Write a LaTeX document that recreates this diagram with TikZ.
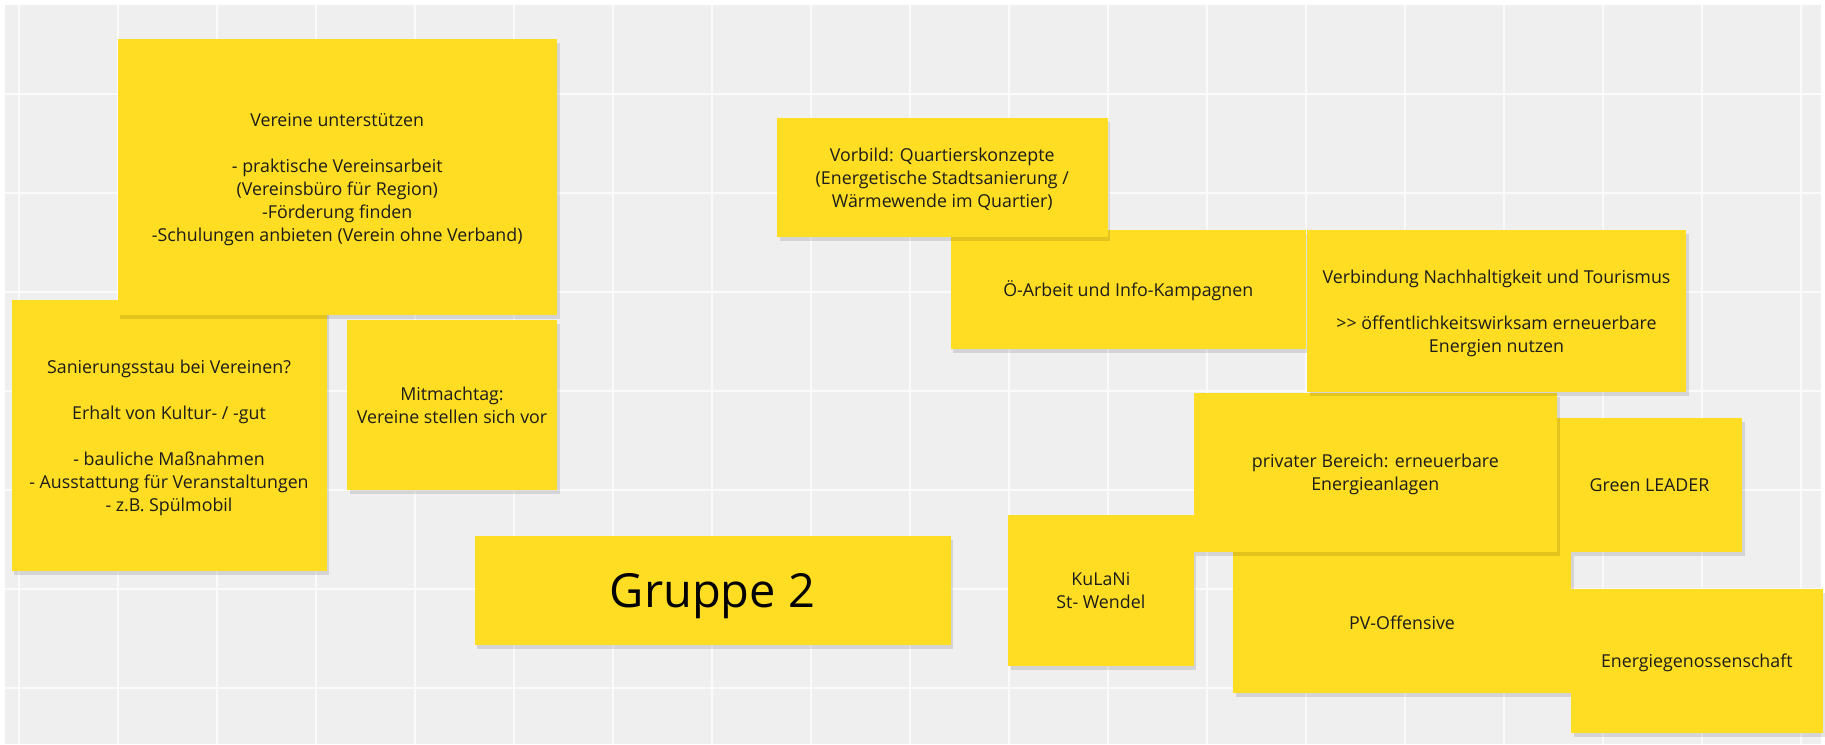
\documentclass[tikz,border=0pt]{standalone}
\usepackage{fontspec}
\setmainfont{Open Sans}
\definecolor{bggray}{RGB}{239,239,239}
\definecolor{gridc}{RGB}{250,250,250}
\definecolor{stickyY}{RGB}{255,221,34}
\definecolor{txt}{RGB}{28,28,28}
\newcommand\ts{\rule[-4.6pt]{0pt}{23pt}}
\tikzset{
  sticky/.style={fill=stickyY, inner sep=0pt, outer sep=0pt, align=center, text=txt,
    font=\fontsize{17.8}{23}\selectfont},
  stickyshadow/.style={fill=black, fill opacity=0.11},
  gridline/.style={draw=gridc, line width=2pt},
}
\newcommand\sticky[6]{%
  \fill[stickyshadow] (#2+2.5,#3+4) rectangle (#4+2.5,#5+4);
  \node[sticky, minimum width={(#4-#2)*1pt}, minimum height={(#5-#3)*1pt}]
     (#1) at ({(#2+#4)/2},{(#3+#5)/2}) {#6};%
}
\begin{document}
\begin{tikzpicture}[x=1pt,y=-1pt]
\useasboundingbox (0,0) rectangle (1825,744);
\fill[white] (0,0) rectangle (1825,744);
\fill[bggray] (5,5) rectangle (1821,744);
\foreach \i in {0,...,18} \draw[gridline] ({19+99*\i},5) -- ({19+99*\i},744);
\foreach \j in {0,...,6} \draw[gridline] (5,{94+99*\j}) -- (1821,{94+99*\j});

\sticky{san}{11.5}{300}{326.5}{571}{\ts Sanierungsstau bei Vereinen?\\[23pt]Erhalt von Kultur- / -gut\\[23pt]- bauliche Maßnahmen\\- Ausstattung für Veranstaltungen\\- z.B. Spülmobil\ts}
\sticky{ver}{117.5}{39}{557}{315}{\ts Vereine unterstützen\\[23pt]- praktische Vereinsarbeit\\(Vereinsbüro für Region)\\-Förderung finden\\-Schulungen anbieten (Verein ohne Verband)\ts}
\sticky{mit}{347}{320}{557}{490}{\ts Mitmachtag:\\Vereine stellen sich vor\ts}
\fill[stickyshadow] (477,540) rectangle (953,649);
\node[sticky, minimum width=476pt, minimum height=109pt, text=black,
  font=\fontsize{47}{56}\selectfont, text height=33.6pt, text depth=0pt]
  (gru) at (712.5,590.5) {Gruppe 2};
\sticky{oea}{950.6}{230}{1306}{349}{\ts Ö-Arbeit und Info-Kampagnen\ts}
\sticky{vor}{777}{118}{1107.5}{237}{\ts Vorbild: Quartierskonzepte\\(Energetische Stadtsanierung /\\Wärmewende im Quartier)\ts}
\sticky{grn}{1557}{418}{1742}{552}{\ts Green LEADER\ts}
\sticky{kul}{1008}{515}{1193.7}{665.7}{\ts KuLaNi\\St- Wendel\ts}
\sticky{pvo}{1233}{552}{1571}{693}{\ts PV-Offensive\ts}
\sticky{pri}{1193.7}{392.7}{1557}{551.7}{\ts privater Bereich: erneuerbare\\Energieanlagen\ts}
\sticky{vbd}{1307}{230}{1686}{392}{\ts Verbindung Nachhaltigkeit und Tourismus\\[23pt]{>}{>} öffentlichkeitswirksam erneuerbare\\Energien nutzen\ts}
\sticky{ene}{1571}{589}{1822.6}{733}{\ts Energiegenossenschaft\ts}
\end{tikzpicture}
\end{document}
